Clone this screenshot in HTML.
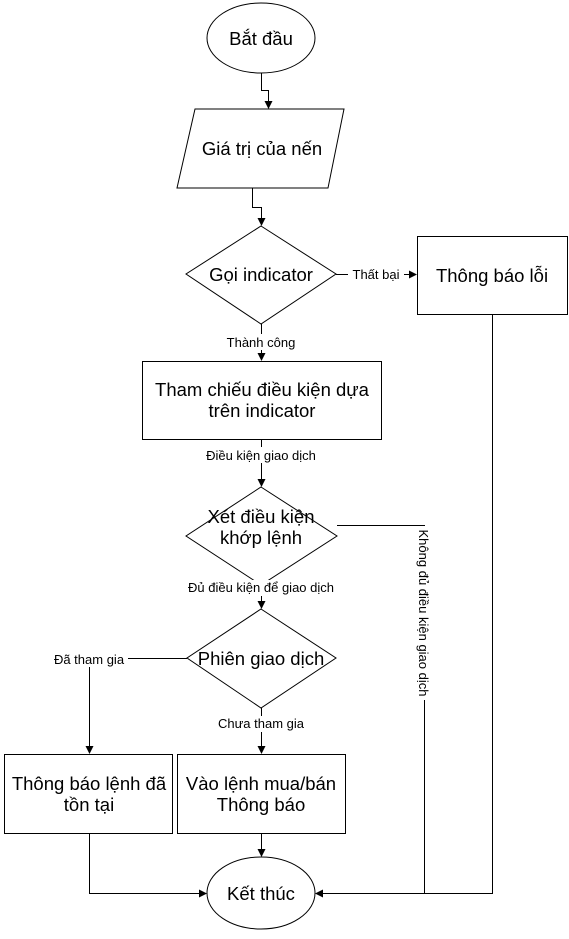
<!DOCTYPE html>
<html><head><meta charset="utf-8"><style>
html,body{margin:0;padding:0;background:#fff}
svg text{font-family:"Liberation Sans",Arial,sans-serif;fill:#000}
</style></head><body>
<svg width="569" height="934" viewBox="0 0 569 934" xmlns="http://www.w3.org/2000/svg">
<defs><marker id="a" markerWidth="8" markerHeight="8" refX="7" refY="4" orient="auto" markerUnits="userSpaceOnUse"><path d="M0,0 L8,4 L0,8 z" fill="#000"/></marker></defs>
<g fill="#fff" stroke="#000" stroke-width="1">
<ellipse cx="261" cy="38" rx="54" ry="35"/>
<polygon points="195,109 344,109 328,188 177,188"/>
<polygon points="261,226 336,274 261,324 186,274"/>
<rect x="417.5" y="236.5" width="150" height="78"/>
<rect x="142.5" y="361.5" width="239" height="78"/>
<polygon points="261,487 337,536 261,585 186,536"/>
<polygon points="261,609 336,658 261,708 187,658"/>
<rect x="4.5" y="754.5" width="168" height="79"/>
<rect x="177.5" y="754.5" width="168" height="79"/>
<ellipse cx="261" cy="893" rx="54" ry="36"/>
</g>
<g fill="none" stroke="#000" stroke-width="1">
<path d="M261.5,73 V90.5 H268.5 V108" marker-end="url(#a)"/>
<path d="M252.5,188 V207.5 H261.5 V225" marker-end="url(#a)"/>
<path d="M336,274.5 H416" marker-end="url(#a)"/>
<path d="M261.5,324 V360" marker-end="url(#a)"/>
<path d="M261.5,439 V486" marker-end="url(#a)"/>
<path d="M261.5,585 V608" marker-end="url(#a)"/>
<path d="M261.5,708 V753" marker-end="url(#a)"/>
<path d="M187,658.5 H89.5 V753" marker-end="url(#a)"/>
<path d="M337,525.5 H424.5 V893.5 H316" marker-end="url(#a)"/>
<path d="M492.5,314 V893.5 H424.5"/>
<path d="M89.5,833 V893.5 H206" marker-end="url(#a)"/>
<path d="M261.5,833 V856" marker-end="url(#a)"/>
</g>
<g font-size="18.5" text-anchor="middle">
<text x="261" y="45">Bắt đầu</text>
<text x="262" y="155">Giá trị của nến</text>
<text x="261" y="281">Gọi indicator</text>
<text x="492" y="282">Thông báo lỗi</text>
<text x="262" y="396">Tham chiếu điều kiện dựa</text>
<text x="262" y="417">trên indicator</text>
<text x="261" y="523">Xét điều kiện</text>
<text x="261" y="544">khớp lệnh</text>
<text x="261" y="665">Phiên giao dịch</text>
<text x="89" y="790">Thông báo lệnh đã</text>
<text x="89" y="811">tồn tại</text>
<text x="261" y="790">Vào lệnh mua/bán</text>
<text x="261" y="811">Thông báo</text>
<text x="261" y="900">Kết thúc</text>
</g>
<g font-size="13" text-anchor="middle">
<rect x="348" y="266" width="56" height="16" fill="#fff"/>
<text x="376" y="279">Thất bại</text>
<rect x="222" y="334" width="78" height="16" fill="#fff"/>
<text x="261" y="347">Thành công</text>
<rect x="203" y="447" width="117" height="16" fill="#fff"/>
<text x="261" y="460">Điều kiện giao dịch</text>
<rect x="183" y="580" width="156" height="16" fill="#fff"/>
<text x="261" y="592">Đủ điều kiện để giao dịch</text>
<rect x="50" y="651" width="78" height="16" fill="#fff"/>
<text x="89" y="664">Đã tham gia</text>
<rect x="214" y="716" width="94" height="16" fill="#fff"/>
<text x="261" y="728">Chưa tham gia</text>
<rect x="416" y="526" width="16" height="174" fill="#fff"/>
<text transform="translate(419,613) rotate(90)">Không đủ điều kiện giao dịch</text>
</g>
</svg>
</body></html>
